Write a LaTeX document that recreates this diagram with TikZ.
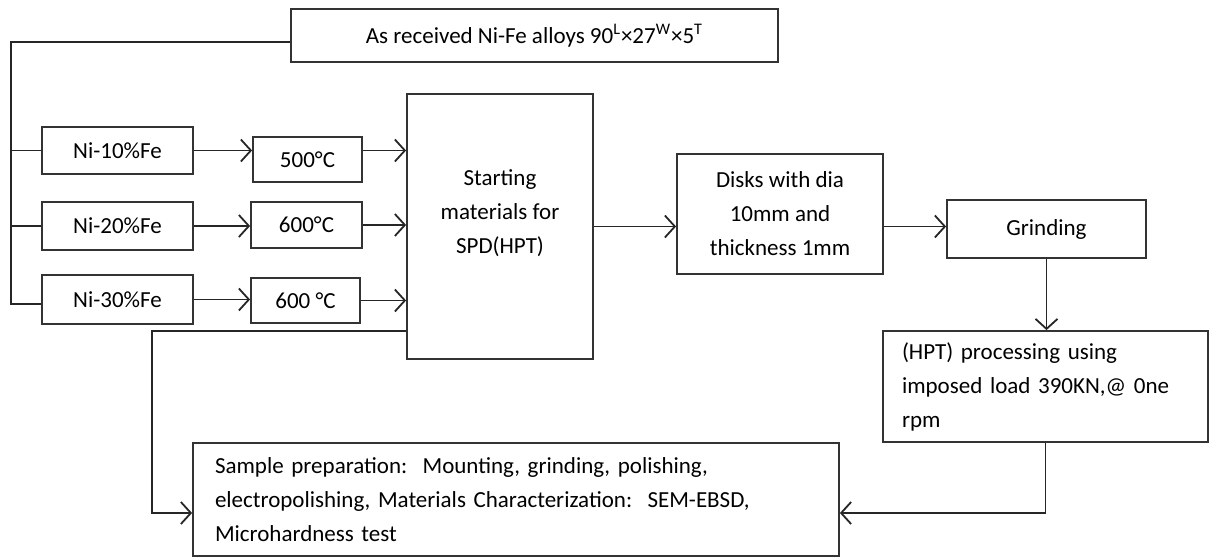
\documentclass[tikz,border=0pt]{standalone}
\usepackage{fontspec}
\setmainfont{Carlito}
\usepackage{tikz}
\usetikzlibrary{arrows.meta,positioning,calc}

\begin{document}
\begin{tikzpicture}[x=0.5pt,y=-0.5pt,
        every node/.style={font=\fontsize{11.5}{17}\selectfont},
        box/.style={draw=black!80,line width=0.9pt,inner sep=0pt},
        flow/.style={draw=black!85,line width=0.9pt},
        arr/.style={flow,-{Straight Barb[length=5pt,width=11pt,line width=0.9pt]}}]
        \useasboundingbox (0,0) rectangle (1210,557);

        % incoming material
        \node[box,minimum width=243.5pt,minimum height=26.5pt] (recv) at (534.5,35.5)
            {As received Ni-Fe alloys 90\textsuperscript{L}×27\textsuperscript{W}×5\textsuperscript{T}};

        % alloys and annealing
        \node[box,minimum width=75.5pt,minimum height=23.5pt] (ni10) at (117.5,150.5) {Ni-10\%Fe};
        \node[box,minimum width=75.5pt,minimum height=24pt] (ni20) at (117.5,226) {Ni-20\%Fe};
        \node[box,minimum width=75.5pt,minimum height=24.5pt] (ni30) at (117.5,299.5) {Ni-30\%Fe};
        \node[box,minimum width=54.5pt,minimum height=22.5pt] (t500) at (307.5,159.5) {500°C};
        \node[box,minimum width=55.5pt,minimum height=23pt] (t600a) at (306.5,225) {600°C};
        \node[box,minimum width=54.5pt,minimum height=22.5pt] (t600b) at (305.5,300.5) {600 °C};

        % main route
        \node[box,minimum width=93pt,minimum height=132.5pt,
            label={[align=center,yshift=6.75pt]center:Starting\\materials for\\SPD(HPT)}] (start) at (500,226.5) {};
        \node[box,minimum width=103pt,minimum height=60pt,align=center] (disks) at (780,214)
            {Disks with dia\\10mm and\\thickness 1mm};
        \node[box,minimum width=99.5pt,minimum height=29pt] (grind) at (1046.5,229) {Grinding};
        \node[box,minimum height=55.5pt,inner xsep=9.5pt,text width=143.5pt,align=left] (hpt) at (1045.5,386.5)
            {(HPT) processing using\\imposed load 390KN,@ 0ne\\rpm};
        \node[box,minimum height=56.5pt,inner xsep=11pt,text width=301pt,align=left] (sample) at (516,499.5)
            {Sample preparation:\ \ Mounting, grinding, polishing,\\electropolishing, Materials Characterization:\ \ SEM-EBSD,\\Microhardness test};

        % feeder lines
        \coordinate (trunk) at (11,304);
        \draw[flow] ([yshift=-3.25pt]recv.west) -| (trunk) -- (trunk -| ni30.west);
        \draw[flow] (trunk |- ni10.west) -- (ni10.west);
        \draw[flow] (trunk |- ni20.west) -- (ni20.west);

        \draw[arr] (ni10.east) -- (ni10.east -| t500.west);
        \draw[arr] (t500.east |- ni10.east) -- (ni10.east -| start.west);
        \draw[arr] (ni20.east) -- (ni20.east -| t600a.west);
        \draw[arr] (t600a.east) -- (t600a.east -| start.west);
        \draw[arr] (ni30.east) -- (ni30.east -| t600b.west);
        \draw[arr] (t600b.east) -- (t600b.east -| start.west);

        \draw[arr] (start.east) -- (start.east -| disks.west);
        \draw[arr] (disks.east |- start.east) -- (start.east -| grind.west);
        \draw[arr] (grind.south) -- (grind.south |- hpt.north);

        % to characterization
        \coordinate (tap) at (152,331);
        \coordinate (feed) at (152,513);
        \draw[arr] (start.west |- tap) -- (tap) -- (feed) -- (sample.west |- feed);
        \draw[arr] (hpt.south) |- (sample.east |- feed);
\end{tikzpicture}
\end{document}
